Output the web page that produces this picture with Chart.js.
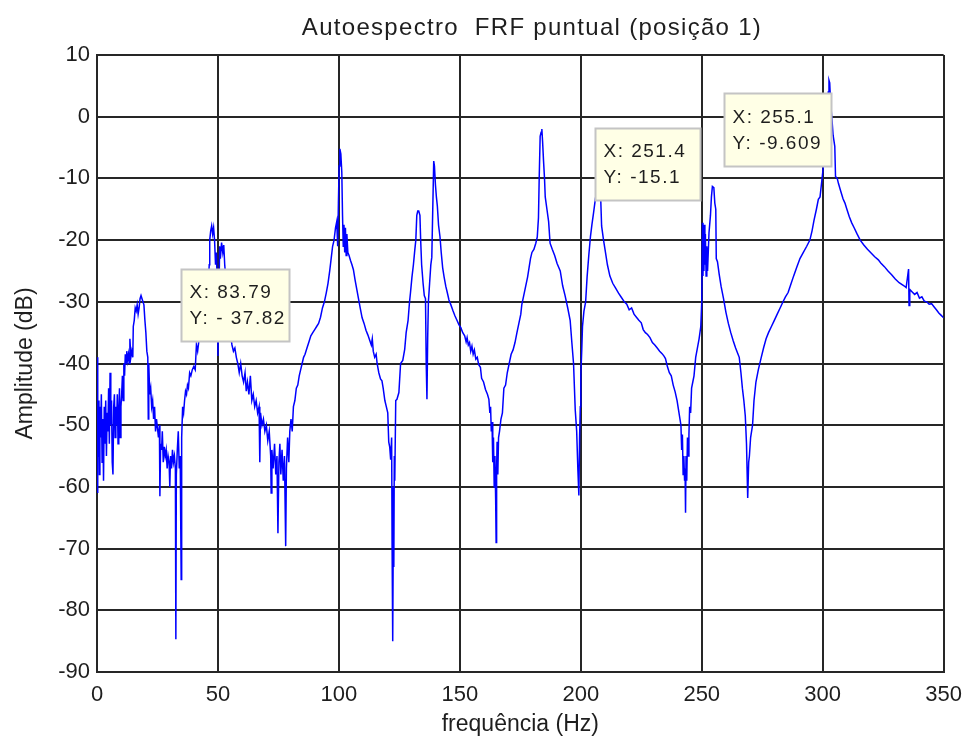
<!DOCTYPE html>
<html>
<head>
<meta charset="utf-8">
<script src="https://cdn.jsdelivr.net/npm/chart.js@4/dist/chart.umd.min.js"></script>
<style>
html,body{margin:0;padding:0;background:#fff;}
#wrap{width:972px;height:738px;}
</style>
</head>
<body>
<div id="wrap"><canvas id="c" width="972" height="738"></canvas></div>
<script>
// ---- data ----
const chartTitle = "Autoespectro  FRF puntual (posição 1)";
const xAxisLabel = "frequência (Hz)";
const yAxisLabel = "Amplitude (dB)";
const xTicks = [0, 50, 100, 150, 200, 250, 300, 350];
const yTicks = [-90, -80, -70, -60, -50, -40, -30, -20, -10, 0, 10];

const freqHz = [
0,0.2,0.4,0.6,0.8,1.0,1.2,1.5,1.8,2.1,2.4,2.7,3.0,3.3,3.6,3.9,4.2,4.5,4.8,5.1,5.4,5.7,6.0,6.3,6.6,6.9,7.2,7.5,7.8,8.1,8.4,8.7,9.0,9.3,9.6,9.9,
10.2,10.5,10.8,11.1,11.4,11.7,12.0,12.3,12.6,13.0,13.3,13.6,14.0,14.4,14.8,15.0,15.4,15.8,16.2,16.6,17.0,17.4,17.8,18.2,18.6,19.0,19.4,19.8,
20.2,20.6,21.0,21.2,21.4,21.8,22.2,22.6,23.0,23.4,23.8,24.2,24.6,25.0,25.4,25.8,26.0,26.3,26.7,27.0,27.4,27.8,28.2,28.6,29.0,29.4,29.8,
30.1,30.4,30.8,31.2,31.6,32.0,32.4,32.6,32.8,33.2,33.6,34.0,34.4,34.8,35.0,35.4,35.8,36.2,36.6,37.0,37.4,37.8,38.3,38.8,39.4,
40.0,40.6,41.1,41.6,42.2,42.8,43.4,43.9,44.4,45.0,45.5,46.0,46.4,46.6,47.0,47.4,47.8,48.2,48.6,49.0,49.4,49.8,
50.0,50.3,50.7,51.0,51.5,52.0,52.4,52.8,53.2,53.6,54.0,54.6,55.2,55.8,56.4,57.0,57.6,58.2,58.8,59.4,
60.0,60.6,61.2,61.7,62.2,62.8,63.4,64.0,64.6,65.2,65.8,66.4,67.0,67.3,67.6,68.2,68.8,69.4,
70.0,70.6,71.2,71.8,72.0,72.3,72.8,73.4,73.9,74.4,74.8,75.2,75.6,76.0,76.5,77.0,77.5,78.0,78.3,78.8,79.3,79.7,
80.2,80.7,81.2,81.8,82.4,83.0,83.6,84.2,84.8,85.4,86.0,86.8,87.6,88.4,89.2,
90.0,90.8,91.6,92.4,93.2,94.0,94.8,95.5,96.2,96.8,97.4,98.0,98.6,99.1,99.5,99.8,
100.1,100.4,100.8,101.2,101.5,101.8,102.1,102.4,102.7,103.0,103.3,103.7,104.2,104.8,105.4,106.0,106.7,107.4,108.1,108.8,109.6,
110.4,111.2,112.0,112.8,113.4,113.8,114.2,114.8,115.4,115.8,116.5,117.2,117.8,118.3,119.0,119.6,
120.2,120.6,121.0,121.4,121.8,122.0,122.2,122.3,122.5,122.7,122.9,123.1,123.5,124.0,124.8,125.5,126.4,127.2,127.8,128.6,129.2,129.6,
130.2,130.8,131.4,131.8,132.2,132.6,133.0,133.5,133.8,134.2,134.8,135.3,135.8,136.1,136.4,136.7,137.0,137.5,138.0,138.4,138.8,139.2,139.5,139.9,
140.3,140.7,141.2,141.8,142.3,142.9,143.5,144.2,144.8,145.5,146.3,147.2,148.0,148.8,149.6,
150.4,151.2,152.0,152.6,153.0,153.5,154.0,154.5,155.0,155.5,156.0,156.6,157.2,157.8,158.5,159.0,159.8,
160.6,161.4,162.0,162.4,162.7,163.0,163.3,163.6,163.9,164.2,164.5,164.8,165.0,165.2,165.4,165.7,166.0,166.4,167.0,167.6,168.2,168.9,169.6,
170.4,171.2,172.0,172.8,173.6,174.4,175.2,175.6,176.4,177.2,178.0,178.6,179.2,179.8,
180.6,181.4,182.0,182.5,182.8,183.2,183.6,183.9,184.2,184.6,185.0,185.3,186.0,186.7,187.3,188.2,189.2,
190.2,191.5,192.5,193.5,194.6,195.6,196.3,197.0,197.7,198.3,198.8,199.2,199.5,199.8,
200.0,200.4,200.7,201.3,202.0,202.6,203.3,204.0,204.6,205.3,206.0,206.6,207.2,207.8,208.2,208.6,209.4,
210.2,211.0,212.0,213.2,214.4,215.6,216.8,218.0,219.0,220.0,221.0,222.0,223.0,224.0,225.0,225.8,226.7,227.6,228.6,229.6,
230.6,231.6,232.6,233.6,234.4,235.0,235.8,236.6,237.4,238.2,239.0,239.8,240.4,241.0,241.4,241.7,242.0,242.3,242.6,242.9,243.1,243.3,243.5,243.8,
244.1,244.4,244.7,245.0,245.4,245.8,246.3,246.8,247.5,248.2,248.9,249.6,
250.0,250.3,250.5,250.7,250.9,251.1,251.3,251.5,251.8,252.1,252.4,253.0,253.6,254.0,254.4,255.0,255.4,255.8,256.0,256.5,257.2,258.0,259.0,
260.0,261.0,262.0,263.0,264.0,265.0,265.5,266.2,266.8,267.4,268.0,268.5,269.0,269.4,269.7,
270.2,271.0,271.6,272.4,273.4,274.6,275.6,276.6,277.6,278.8,280.0,281.2,282.4,283.6,284.6,285.7,286.8,288.0,289.2,
290.6,292.0,293.4,294.7,295.6,296.4,297.4,298.2,298.9,299.6,300.3,300.7,301.2,301.8,302.3,302.6,302.9,303.3,303.75,304.3,305.0,305.3,
306.0,306.5,307.4,308.4,309.2,310.0,311.0,312.0,313.0,314.2,315.5,317.0,318.5,320.0,321.5,323.0,324.0,325.5,327.0,328.5,
330.0,331.6,333.6,334.5,335.5,335.7,336.0,337.0,338.0,339.0,340.0,341.0,342.0,343.0,344.0,345.0,346.0,347.0,348.0,349.0,350.0
];

const ampDb = [
-39,-61,-48,-55,-46,-58,-47,-52,-45,-56,-49,-59,-47,-53,-46,-55,-48,-51,-44,-53,-41.5,-50,-46,-56,-58,-47,-45,-52,-47,-50,-45,-53,-48,-44,-52,-47,
-45,-42,-46,-40,-42,-38.5,-40,-38,-39.5,-38.5,-40,-36,-39,-38,-39,-34,-33,-31,-31.5,-30.5,-32,-31,-29.5,-29,-29,-30,-30.5,-33,
-35,-38,-39,-49,-40,-45,-44,-47,-46,-49,-47,-51,-49,-50.5,-52,-50,-61.5,-53,-54,-51,-56,-53.5,-55,-54,-57,-55,-56,
-60,-55,-57,-54,-56,-55,-57,-84.7,-58,-54,-51,-57,-55,-75,-52,-47,-48,-46,-44.5,-45,-43.5,-44,-41.5,-42,-41,
-40.5,-41,-37,-38,-36,-35,-34.5,-32,-33,-30,-29,-27,-24,-20,-18.5,-17.7,-19,-18,-20,-24,-22,-30,
-38.8,-32,-21,-23,-20.4,-22,-20.8,-24,-26,-30,-33,-36,-35.5,-37,-38,-37.5,-39,-40,-41.5,-40,
-42,-43,-41.5,-44.5,-43,-45,-42,-46,-45,-47,-46,-48,-47,-56,-48,-50,-49,-51,
-50,-52.5,-51,-55,-61,-54,-57,-53,-58,-55,-67.5,-56,-53,-58,-54,-59,-55,-69.6,-57,-52,-56,-51,
-49,-51,-47,-46,-44,-43.5,-42,-41,-40,-39,-38.5,-37.5,-36.5,-35.5,-35,
-34.5,-34,-33.5,-32.5,-31,-30,-28.5,-27,-25,-23,-21,-20,-18,-17,-21,-14,
-8,-5.2,-6,-9,-16,-21,-17.5,-22,-18,-22.5,-19,-22,-22.5,-23.3,-24,-24.8,-26.5,-28,-29.5,-31,-32.6,
-33.5,-34.6,-35.4,-36.3,-37,-36,-38,-39,-38.5,-40,-41.5,-42.5,-42.8,-44,-46,-47,
-48,-52.7,-53.5,-55.6,-52,-70,-60,-85,-66,-73,-55,-59,-46,-45.8,-44.7,-40,-39.5,-37.7,-35,-33,-30,-28.5,
-26,-24,-21.5,-20,-16,-15.3,-15.3,-16,-20,-24,-27,-29,-29.5,-40,-45.8,-36,-30,-27,-24,-22.8,-15,-7.2,-8,-11,
-13,-14.5,-17.6,-19.5,-22,-24.5,-26,-27.5,-28.5,-29.7,-30.5,-31.5,-32.3,-33,-33.7,
-34.2,-35,-35.5,-36.5,-35.8,-37,-36.6,-38,-37.2,-38.5,-37.8,-39.3,-39,-40.2,-40.6,-42.4,-43,
-44.2,-45,-45.8,-48,-47,-51,-49.5,-56,-52,-60,-55,-62,-69,-57,-52.7,-58,-52,-51,-49,-48,-44,-43.5,-41.5,
-40,-38.5,-37.8,-36.6,-35,-33.5,-32,-30.5,-29,-27.5,-26,-24.5,-23,-22,
-21.5,-20.5,-19.5,-16.4,-10,-3.2,-2.5,-2,-4,-7.2,-10,-13,-15,-17,-20.5,-21.5,-22.5,
-23.8,-25,-27.4,-29,-31,-33,-36.6,-40,-47.5,-51,-57.3,-61.4,-52,-47,
-42,-37.8,-34,-31.5,-30,-26,-22.5,-19.4,-17.5,-15.5,-13.4,-12,-11,-11.5,-12.9,-17.7,-20,
-22,-24,-25.8,-27,-27.8,-28.6,-29.3,-30,-30.4,-31.3,-31,-32,-32.5,-33,-33.4,-34.5,-35,-35.3,-35.8,-36.6,
-37,-37.5,-38,-38.4,-38.8,-39.2,-40.5,-41.5,-42,-43.5,-44.6,-46,-47.5,-49,-50,-54,-51.5,-58,-55,-59,-57,-64.2,-55,-59,
-52,-55,-51.6,-47,-48,-44,-43,-42,-39,-37.5,-36,-34,
-30,-17.2,-25.8,-18,-25,-17.5,-24,-19,-25.8,-21,-25,-18.8,-16,-13,-11.3,-11.5,-14,-15,-23,-23.5,-25.5,-27.5,-29.5,
-31.7,-33.5,-35,-36.3,-37.5,-38.5,-39,-41.5,-44,-46,-48.5,-53,-61.8,-56,-55,
-52,-50,-46,-43,-41,-39,-37.4,-36,-35,-34,-33,-32,-31,-30,-29.2,-28.5,-27.2,-25.8,-24.5,
-23,-22,-21,-20,-18.5,-16.8,-15,-13.4,-13,-10.5,-8,-7,-4,0,4,5.9,5.5,2,0,-3,-4.8,-9.7,
-10,-10.8,-12,-13.3,-14,-15,-16.2,-17.2,-18,-19,-20,-20.8,-21.5,-22.1,-22.7,-23.2,-23.7,-24.3,-25,-25.6,
-26.3,-26.9,-27.4,-27.7,-24.7,-30.6,-28,-28.4,-28.8,-28.5,-29.4,-29.2,-29.9,-30,-30.4,-30.3,-30.8,-31.3,-31.8,-32.2,-32.6
];

// data-tip annotations (text as shown in the picture)
const tipTexts = [
  ["X: 83.79", "Y: - 37.82"],
  ["X: 251.4", "Y: -15.1"],
  ["X: 255.1", "Y: -9.609"]
];
// ---- end of data ----

const points = freqHz.map((f, i) => ({x: f, y: ampDb[i]}));

// box placement in axis units (left, top, right, bottom)
const tipBoxes = [
  [34.7, -24.7, 79.2, -36.4],
  [205.9, -1.8, 249.3, -13.5],
  [259.2, 3.8, 303.3, -8.0]
];

const FONT = "'Liberation Sans', Arial, Helvetica, sans-serif";

const overlayPlugin = {
  id: 'overlay',
  afterDatasetsDraw(chart) {
    const ctx = chart.ctx;
    const xs = chart.scales.x, ys = chart.scales.y;
    ctx.save();
    tipBoxes.forEach((b, i) => {
      const l = Math.round(xs.getPixelForValue(b[0])) + 0.5;
      const t = Math.round(ys.getPixelForValue(b[1])) + 0.5;
      const r = Math.round(xs.getPixelForValue(b[2])) + 0.5;
      const bt = Math.round(ys.getPixelForValue(b[3])) + 0.5;
      ctx.fillStyle = '#ffffe6';
      ctx.fillRect(l, t, r - l, bt - t);
      ctx.strokeStyle = '#c4c4c4';
      ctx.lineWidth = 2;
      ctx.strokeRect(l, t, r - l, bt - t);
      ctx.fillStyle = '#1e1e1e';
      ctx.font = "19px " + FONT;
      ctx.letterSpacing = '1.5px';
      ctx.textAlign = 'left';
      ctx.textBaseline = 'middle';
      const h = bt - t;
      ctx.fillText(tipTexts[i][0], l + 8, t + h * 0.33);
      ctx.fillText(tipTexts[i][1], l + 8, t + h * 0.69);
    });
    ctx.restore();
  },
  afterDraw(chart) {
    const ctx = chart.ctx;
    ctx.save();
    ctx.fillStyle = '#1e1e1e';
    ctx.font = "24px " + FONT;
    ctx.letterSpacing = '1.3px';
    ctx.textAlign = 'center';
    ctx.textBaseline = 'middle';
    ctx.fillText(chartTitle, 532, 28);
    ctx.restore();
  }
};

new Chart(document.getElementById('c'), {
  type: 'line',
  data: {
    datasets: [{
      data: points,
      borderColor: '#0000ff',
      borderWidth: 1.5,
      pointRadius: 0,
      tension: 0,
      fill: false
    }]
  },
  options: {
    responsive: false,
    animation: false,
    devicePixelRatio: 1,
    layout: { padding: { top: 55, right: 27, bottom: 0, left: 0 } },
    plugins: { legend: { display: false }, tooltip: { enabled: false }, title: { display: false } },
    scales: {
      x: {
        type: 'linear',
        min: 0, max: 350,
        afterBuildTicks: (s) => { s.ticks = xTicks.map(v => ({value: v})); },
        afterFit: (s) => { s.height = 66; },
        grid: { color: '#262626', lineWidth: 2, drawTicks: false },
        border: { color: '#262626', width: 2 },
        ticks: { color: '#1e1e1e', font: { family: FONT, size: 22 }, padding: 10, maxRotation: 0, autoSkip: false },
        title: { display: true, text: xAxisLabel, color: '#1e1e1e', font: { family: FONT, size: 23, lineHeight: 1 }, padding: { top: 0, bottom: 1.5 } }
      },
      y: {
        type: 'linear',
        min: -90, max: 10,
        afterBuildTicks: (s) => { s.ticks = yTicks.map(v => ({value: v})); },
        afterFit: (s) => { s.width = 97; },
        grid: { color: '#262626', lineWidth: 2, drawTicks: false },
        border: { color: '#262626', width: 2 },
        ticks: { color: '#1e1e1e', font: { family: FONT, size: 22 }, padding: 7, autoSkip: false },
        title: { display: true, text: yAxisLabel, color: '#1e1e1e', font: { family: FONT, size: 23, lineHeight: 1 }, padding: { top: 14.5, bottom: 0 } }
      }
    }
  },
  plugins: [overlayPlugin]
});
</script>
</body>
</html>
